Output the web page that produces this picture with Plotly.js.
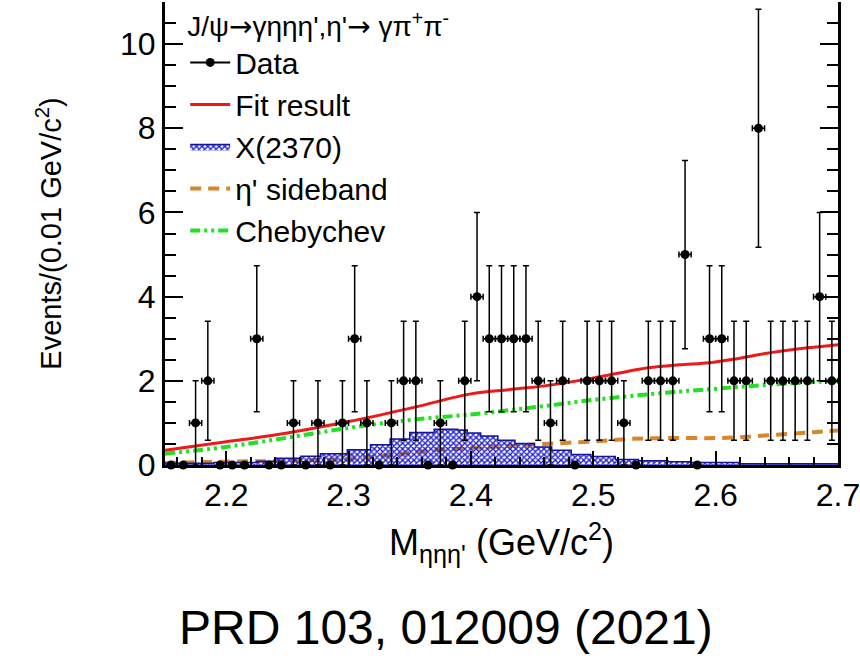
<!DOCTYPE html>
<html>
<head>
<meta charset="utf-8">
<script src="https://cdn.plot.ly/plotly-3.0.1.min.js"></script>
<style>
  html, body { margin: 0; padding: 0; background: #fff; }
  #chart { width: 860px; height: 667px; }
</style>
</head>
<body>
<div id="chart"></div>
<script>
// ---- Data ----
const binCenters = [2.155,2.165,2.175,2.185,2.195,2.205,2.215,2.225,2.235,2.245,
                    2.255,2.265,2.275,2.285,2.295,2.305,2.315,2.325,2.335,2.345,
                    2.355,2.365,2.375,2.385,2.395,2.405,2.415,2.425,2.435,2.445,
                    2.455,2.465,2.475,2.485,2.495,2.505,2.515,2.525,2.535,2.545,
                    2.555,2.565,2.575,2.585,2.595,2.605,2.615,2.625,2.635,2.645,
                    2.655,2.665,2.675,2.685,2.695];
const counts = [0,0,1,2,0,0,0,3,0,0,
                1,0,1,0,1,3,1,0,1,2,
                2,0,1,0,2,4,3,3,3,3,
                2,1,2,0,2,2,2,1,0,2,
                2,2,5,0,3,3,2,2,8,2,
                2,2,2,4,2];

const fitX = [2.15,2.20,2.25,2.294,2.32,2.355,2.40,2.431,2.46,2.495,2.52,2.545,2.57,2.595,2.614,2.645,2.67,2.70];
const fitY = [0.35,0.55,0.76,1.00,1.15,1.38,1.69,1.79,1.88,2.04,2.18,2.31,2.38,2.43,2.51,2.67,2.77,2.86];

const chebX = [2.15,2.20,2.25,2.30,2.35,2.40,2.431,2.46,2.495,2.545,2.595,2.645,2.70];
const chebY = [0.27,0.43,0.65,0.88,1.07,1.20,1.30,1.40,1.53,1.68,1.80,1.91,2.00];

const sbX = [2.15,2.20,2.25,2.30,2.33,2.355,2.39,2.43,2.46,2.50,2.53,2.56,2.60,2.62,2.65,2.68,2.70];
const sbY = [0.05,0.08,0.10,0.15,0.22,0.31,0.39,0.45,0.50,0.56,0.62,0.64,0.64,0.66,0.72,0.78,0.82];

const sigX = [2.15,2.19,2.225,2.240,2.261,2.277,2.299,2.318,2.334,2.350,2.370,2.389,2.397,2.408,2.422,2.436,2.452,2.466,2.482,2.498,2.518,2.537,2.561,2.58,2.62,2.70];
const sigY = [0.04,0.06,0.09,0.16,0.21,0.27,0.36,0.48,0.62,0.77,0.85,0.83,0.76,0.69,0.59,0.51,0.43,0.35,0.25,0.20,0.13,0.10,0.08,0.06,0.03,0.02];

const binHalfWidth = 0.005;
const xTickVals = [2.2,2.3,2.4,2.5,2.6,2.7];
const xTickText = ['2.2','2.3','2.4','2.5','2.6','2.7'];
const yTickVals = [0,2,4,6,8,10];

// ---- Derived error bars (sqrt(N) per bin, bin half width) ----
const yErr = counts.map(n => Math.sqrt(n));
const xErr = counts.map(n => n > 0 ? binHalfWidth : 0);

const FONT = 'Liberation Sans, Arial, Helvetica, sans-serif';
const ARW = '<span style="font-family:DejaVu Sans">→</span>';

const traces = [
  { // eta' sideband (under the hatched area)
    x: sbX, y: sbY, type: 'scatter', mode: 'lines', name: "η' sideband",
    line: {color: '#d9862a', width: 4, dash: '11px,7px', shape: 'spline'},
    legendrank: 4
  },
  { // X(2370)
    x: sigX, y: sigY, type: 'scatter', mode: 'lines', name: 'X(2370)',
    line: {color: '#15159a', width: 1.5, shape: 'hv'},
    fill: 'tozeroy', fillcolor: 'rgba(255,255,255,0)',
    fillpattern: {shape: 'x', fgcolor: '#2222cc', bgcolor: 'rgba(255,255,255,0)', size: 4, solidity: 0.6},
    legendrank: 3
  },
  { // Chebychev
    x: chebX, y: chebY, type: 'scatter', mode: 'lines', name: 'Chebychev',
    line: {color: '#22e022', width: 4, dash: '10px,4px,3px,4px,3px,4px', shape: 'spline'},
    legendrank: 5
  },
  { // Fit
    x: fitX, y: fitY, type: 'scatter', mode: 'lines', name: 'Fit result',
    line: {color: '#f01818', width: 3, shape: 'spline'},
    legendrank: 2
  },
  { // Data
    x: binCenters, y: counts, type: 'scatter', mode: 'markers', name: 'Data',
    showlegend: false, cliponaxis: false,
    marker: {color: '#000', size: 9},
    error_y: {type: 'data', array: yErr, visible: true, color: '#000', thickness: 1.5, width: 3},
    error_x: {type: 'data', array: xErr, visible: true, color: '#000', thickness: 1.5, width: 3}
  },
  { // legend entry for data
    x: [null], y: [null], type: 'scatter', mode: 'lines+markers', name: 'Data',
    line: {color: '#000', width: 2}, marker: {color: '#000', size: 9},
    legendrank: 1
  }
];

const layout = {
  width: 860, height: 667,
  margin: {l: 165, r: 22, t: 0, b: 202},
  paper_bgcolor: '#fff', plot_bgcolor: '#fff',
  font: {family: FONT, color: '#000'},
  showlegend: true,
  legend: {
    x: 0.03, y: 1.005, xanchor: 'left', yanchor: 'top',
    bgcolor: 'rgba(0,0,0,0)', borderwidth: 0,
    font: {size: 30, family: FONT, color: '#000'},
    title: {text: "J/ψ" + ARW + "γηηη',η'" + ARW + " γπ<sup>+</sup>π<sup>-</sup>", font: {size: 28, family: FONT, color: '#000'}},
    tracegroupgap: 0, itemwidth: 40
  },
  xaxis: {
    range: [2.15, 2.70], showgrid: false, zeroline: false,
    showline: true, linecolor: '#000', linewidth: 3, mirror: false,
    ticks: 'inside', ticklen: 14, tickwidth: 2, tickcolor: '#000',
    tickvals: xTickVals, ticktext: xTickText,
    tickfont: {size: 32, family: FONT},
    ticklabeloverflow: 'allow',
    minor: {dtick: 0.02, tick0: 2.2, ticks: 'inside', ticklen: 8, tickwidth: 2, tickcolor: '#000'},
    title: {text: "M<sub>ηηη'</sub> (GeV/c<sup>2</sup>)", font: {size: 36, family: FONT}, standoff: 18}
  },
  yaxis: {
    range: [0, 11], showgrid: false, zeroline: false,
    showline: true, linecolor: '#000', linewidth: 3, mirror: 'ticks',
    ticks: 'inside', ticklen: 18, tickwidth: 2, tickcolor: '#000',
    tickvals: yTickVals,
    tickfont: {size: 32, family: FONT},
    minor: {dtick: 0.5, tick0: 0, ticks: 'inside', ticklen: 11, tickwidth: 2, tickcolor: '#000'},
    title: {text: 'Events/(0.01 GeV/c<sup>2</sup>)', font: {size: 29, family: FONT}, standoff: 50}
  },
  annotations: [{
    xref: 'paper', yref: 'paper', x: 0.4175, y: -0.35, xanchor: 'center', yanchor: 'middle',
    text: 'PRD 103, 012009 (2021)', showarrow: false,
    font: {size: 48, family: FONT, color: '#000'}
  }]
};

Plotly.newPlot('chart', traces, layout, {displayModeBar: false, staticPlot: true});
</script>
</body>
</html>
